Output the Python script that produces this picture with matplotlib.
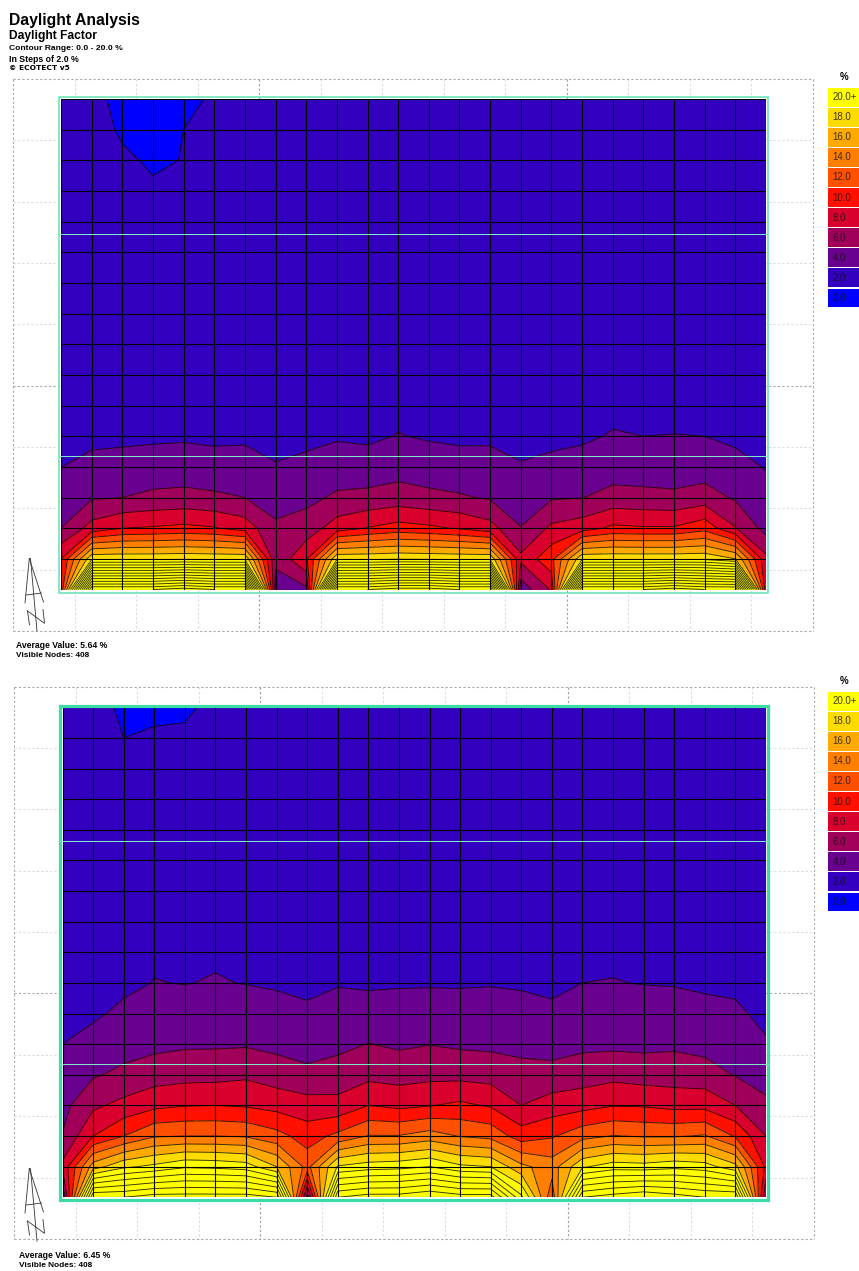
import numpy as np
import matplotlib
matplotlib.use("Agg")
import matplotlib.pyplot as plt
from matplotlib.patches import Rectangle

W, H = 859, 1271
plt.rcParams['font.family'] = ['Liberation Sans', 'DejaVu Sans']

levels_fill = [0, 2, 4, 6, 8, 10, 12, 14, 16, 18, 20, 70]
levels_line = [2, 4, 6, 8, 10, 12, 14, 16, 18, 20, 22, 24, 26, 28, 30, 32, 34, 36, 38, 40, 42, 44]
band_colors = ['#0000ff', '#3300c0', '#690090', '#a0005a', '#da002d', '#ff1000',
               '#ff5000', '#ff8000', '#ffaa00', '#ffdc00', '#ffff00']
legend_labels = ['20.0+', '18.0', '16.0', '14.0', '12.0', '10.0', '8.0', '6.0', '4.0', '2.0', '0.0']

df_top = [
 [2.30,2.08,1.92,1.85,1.90,2.05,2.25,2.35,2.40,2.45,2.50,2.50,2.50,2.50,2.50,2.50,2.50,2.50,2.50,2.50,2.50,2.45,2.40,2.30],
 [2.35,2.15,1.95,1.88,2.00,2.20,2.35,2.45,2.50,2.55,2.55,2.55,2.55,2.55,2.55,2.55,2.55,2.55,2.55,2.55,2.55,2.50,2.45,2.35],
 [2.40,2.30,2.06,1.95,2.01,2.30,2.45,2.50,2.55,2.60,2.60,2.60,2.60,2.60,2.60,2.60,2.60,2.60,2.60,2.60,2.60,2.55,2.50,2.40],
 [2.45,2.40,2.25,2.05,2.25,2.40,2.50,2.55,2.60,2.65,2.65,2.65,2.65,2.65,2.65,2.65,2.65,2.65,2.65,2.65,2.65,2.60,2.55,2.45],
 [2.50,2.50,2.45,2.40,2.45,2.50,2.55,2.60,2.65,2.70,2.70,2.70,2.70,2.70,2.70,2.70,2.70,2.70,2.70,2.70,2.70,2.65,2.60,2.50],
 [2.55,2.60,2.60,2.60,2.60,2.60,2.60,2.65,2.70,2.75,2.75,2.80,2.75,2.75,2.75,2.70,2.70,2.75,2.80,2.80,2.80,2.75,2.65,2.55],
 [2.60,2.70,2.70,2.70,2.70,2.70,2.70,2.70,2.75,2.80,2.80,2.90,2.80,2.80,2.80,2.70,2.75,2.80,2.90,2.90,2.90,2.85,2.70,2.60],
 [2.60,2.80,2.80,2.80,2.80,2.80,2.80,2.70,2.80,2.90,2.90,3.00,2.90,2.90,2.90,2.75,2.80,2.90,3.00,3.00,3.00,2.95,2.75,2.60],
 [2.65,2.90,2.90,3.00,3.00,2.90,3.00,2.75,2.90,3.00,3.00,3.10,3.00,3.00,3.00,2.80,2.90,3.00,3.15,3.10,3.10,3.10,2.85,2.65],
 [2.70,3.05,3.05,3.15,3.20,3.05,3.15,2.80,3.00,3.15,3.15,3.30,3.15,3.15,3.15,2.85,3.00,3.15,3.30,3.25,3.25,3.25,3.00,2.70],
 [2.80,3.20,3.25,3.35,3.40,3.25,3.35,2.85,3.20,3.40,3.30,3.50,3.40,3.35,3.35,2.90,3.15,3.35,3.50,3.40,3.40,3.40,3.20,2.75],
 [3.00,3.50,3.56,3.68,3.76,3.56,3.72,3.00,3.50,3.80,3.64,4.08,3.80,3.64,3.72,3.10,3.45,3.68,4.15,4.00,4.05,4.00,3.64,2.95],
 [3.97,4.60,4.80,4.90,4.95,4.90,4.70,4.20,4.50,5.00,4.90,5.20,5.00,4.80,4.60,4.20,4.55,4.80,5.00,5.00,4.95,5.00,4.60,3.90],
 [5.00,5.80,6.00,6.40,6.55,6.30,6.00,5.20,5.50,6.30,6.50,6.85,6.45,6.20,5.80,5.20,5.80,5.95,6.70,6.55,6.40,6.90,5.75,4.60],
 [6.00,8.77,10.0,10.2,10.5,10.15,9.10,6.33,6.90,9.00,10.1,10.8,10.4,9.80,8.77,6.05,8.40,9.10,10.4,10.2,10.2,11.3,8.10,5.30],
 [10.0,19.5,19.5,19.5,19.6,19.5,19.5,6.50,9.70,19.5,19.5,19.7,19.6,19.5,19.5,8.47,11.4,19.5,19.5,19.5,19.5,19.5,18.0,8.50],
 [10.2,42.0,42.0,42.0,43.0,42.0,42.0,5.00,5.60,42.0,42.0,43.0,43.0,42.0,42.0,4.80,8.20,42.0,42.0,42.0,43.0,42.0,42.0,8.50],
]

df_bottom = [
 [2.40,2.20,1.90,1.80,1.90,2.15,2.35,2.45,2.50,2.50,2.50,2.50,2.50,2.50,2.50,2.50,2.50,2.50,2.50,2.50,2.50,2.50,2.45,2.40],
 [2.45,2.40,2.00,2.12,2.10,2.30,2.45,2.50,2.55,2.55,2.55,2.55,2.55,2.55,2.55,2.55,2.55,2.55,2.55,2.55,2.55,2.55,2.50,2.45],
 [2.50,2.50,2.40,2.40,2.40,2.50,2.55,2.60,2.60,2.60,2.60,2.60,2.60,2.60,2.60,2.60,2.60,2.60,2.65,2.65,2.60,2.60,2.55,2.50],
 [2.55,2.60,2.55,2.55,2.60,2.60,2.65,2.65,2.65,2.65,2.65,2.65,2.65,2.65,2.65,2.65,2.65,2.70,2.75,2.70,2.70,2.65,2.60,2.55],
 [2.60,2.65,2.65,2.70,2.75,2.75,2.75,2.75,2.75,2.75,2.75,2.75,2.75,2.75,2.75,2.75,2.70,2.80,2.85,2.80,2.80,2.75,2.70,2.60],
 [2.65,2.70,2.80,2.90,2.90,2.95,2.90,2.90,2.85,2.90,2.90,2.90,2.90,2.90,2.95,2.90,2.85,2.95,3.00,2.95,2.95,2.90,2.80,2.65],
 [2.70,2.75,2.95,3.10,3.10,3.20,3.10,3.05,3.00,3.05,3.05,3.05,3.05,3.05,3.10,3.05,3.00,3.15,3.20,3.15,3.15,3.05,2.95,2.75],
 [2.75,2.85,3.15,3.40,3.35,3.45,3.35,3.30,3.15,3.30,3.25,3.30,3.30,3.30,3.35,3.25,3.15,3.40,3.45,3.40,3.35,3.25,3.10,2.85],
 [2.85,2.95,3.35,3.75,3.65,3.80,3.65,3.55,3.35,3.60,3.50,3.55,3.55,3.55,3.60,3.50,3.35,3.70,3.75,3.65,3.60,3.50,3.35,2.95],
 [2.90,3.00,3.60,4.05,3.95,4.10,3.95,3.80,3.60,3.90,3.80,3.85,3.85,3.85,3.90,3.80,3.55,4.00,4.05,3.95,3.90,3.75,3.60,3.10],
 [3.30,3.70,4.40,4.80,4.85,4.90,4.85,4.60,4.30,4.60,4.60,4.70,4.80,4.70,4.70,4.60,4.40,4.70,4.80,4.70,4.70,4.45,4.35,3.50],
 [4.00,4.70,5.30,5.50,5.73,5.75,5.80,5.50,5.10,5.50,6.05,5.70,5.95,5.70,5.60,5.50,5.20,5.60,5.60,5.55,5.70,5.40,5.20,4.20],
 [4.70,5.80,6.40,7.05,7.30,7.35,7.65,7.00,6.50,6.90,7.45,7.20,7.45,7.40,7.20,6.60,6.70,7.00,7.40,7.10,7.00,6.80,5.90,5.20],
 [5.40,7.60,8.60,9.50,9.90,10.0,9.80,9.30,8.80,8.60,10.0,9.50,9.90,10.4,9.80,8.00,8.90,9.30,9.90,9.80,9.40,9.40,8.00,6.40],
 [6.10,10.0,12.0,13.8,14.0,14.0,13.8,12.7,11.1,12.5,14.1,14.1,14.9,13.9,13.4,11.0,11.8,13.3,14.1,13.8,13.8,14.2,11.8,8.00],
 [8.50,17.0,19.6,20.5,21.7,21.5,21.0,18.0,13.3,20.2,21.0,21.3,22.0,20.4,20.0,16.5,15.0,19.7,21.0,20.8,21.4,20.9,18.6,9.50],
 [4.00,30.0,30.0,31.0,31.0,31.0,31.0,30.0,5.00,30.0,31.0,31.0,32.0,31.0,31.0,22.5,12.5,30.0,31.0,32.0,31.0,30.0,30.0,6.00],
]

fig = plt.figure(figsize=(W / 100, H / 100), dpi=100)
bg = fig.add_axes([0, 0, 1, 1], zorder=0)
bg.set_xlim(0, W); bg.set_ylim(H, 0); bg.axis('off')
over = fig.add_axes([0, 0, 1, 1], zorder=5)
over.set_xlim(0, W); over.set_ylim(H, 0); over.axis('off'); over.patch.set_alpha(0)


def txt(x, y, s, size, **kw):
    kw.setdefault('weight', 'bold')
    kw.setdefault('color', 'black')
    over.text(x, y, s, fontsize=size * 0.72, va='center', ha=kw.pop('ha', 'left'), **kw)


def panel(grid, box, frame, frame_lw, frame_color, outer, cyan_ys, arrow_dy, legend_top, note_xy, avg):
    x0, y0, x1, y1 = box
    ax = fig.add_axes([x0 / W, 1 - y1 / H, (x1 - x0) / W, (y1 - y0) / H], zorder=2)
    data = np.array(grid)
    nr, nc = data.shape
    xs = np.arange(nc); ys = np.arange(nr)
    ax.contourf(xs, ys, data, levels=levels_fill, colors=band_colors)
    ax.contour(xs, ys, data, levels=levels_line, colors='black', linewidths=0.65, alpha=0.8)
    ax.vlines(xs, 0, nr - 1, color='black', lw=0.8)
    ax.hlines(ys, 0, nc - 1, color='black', lw=0.8)
    ax.set_xlim(0, nc - 1); ax.set_ylim(nr - 1, 0); ax.axis('off')

    # dotted background reference grid
    ox0, oy0, ox1, oy1 = outer
    nx, ny = 13, 9
    for i in range(nx + 1):
        x = ox0 + (ox1 - ox0) * i / nx
        edge = i in (0, nx)
        dark = i in (4, 9)
        col = '#a8a8a8' if edge else ('#a0a0a0' if dark else '#dcdcdc')
        bg.plot([x, x], [oy0, oy1], color=col, lw=0.8, dashes=(2, 2))
    for j in range(ny + 1):
        y = oy0 + (oy1 - oy0) * j / ny
        edge = j in (0, ny)
        col = '#a8a8a8' if edge or j == 5 else '#dcdcdc'
        bg.plot([ox0, ox1], [y, y], color=col, lw=0.8, dashes=(2, 2))

    fx0, fy0, fx1, fy1 = frame
    over.add_patch(Rectangle((fx0, fy0), fx1 - fx0, fy1 - fy0, fill=False, ec=frame_color, lw=frame_lw))
    for y in cyan_ys:
        over.plot([fx0, fx1], [y, y], color='#7fe6c8', lw=0.75)

    # north arrow
    for (ax_, ay_, bx_, by_) in [(29.3, 558.5, 25, 603), (29.3, 558.5, 43.5, 602), (30.5, 558.5, 37, 631),
                                 (26, 595, 41.5, 593), (27.5, 611, 29.5, 625), (27.5, 611, 44, 623), (43, 609.5, 44.5, 623)]:
        over.plot([ax_, bx_], [ay_ + arrow_dy, by_ + arrow_dy], color='#333333', lw=0.6)

    # legend
    for k, (lab, col) in enumerate(zip(legend_labels, band_colors[::-1])):
        top = legend_top + 20.05 * k
        over.add_patch(Rectangle((828, top), 31, 18.6, fc=col, ec='none'))
        over.text(832.5, top + 9.3, lab, fontsize=7.0, color='#111111', va='center', ha='left', alpha=0.8)
    over.text(844, legend_top - 11.5, '%', fontsize=7.0, weight='bold', ha='center', va='center')

    txt(note_xy[0], note_xy[1], 'Average Value: ' + avg + ' %', 8.6)
    txt(note_xy[0], note_xy[1] + 10.5, 'Visible Nodes: 408', 8.3)


panel(df_top, (61, 99, 766, 589.5), (59, 97, 768, 592.7), 1.2, '#6fe3b9',
      (13, 79, 813, 631), [234, 456], 0, 88, (16, 645), '5.64')
panel(df_bottom, (62.5, 707.3, 766, 1197.3), (60, 705.5, 768, 1200), 2.3, '#3ddca4',
      (14, 686.5, 814, 1239), [841, 1063.5], 610, 692, (19, 1255), '6.45')

txt(9, 20, 'Daylight Analysis', 15.8)
txt(9, 36, 'Daylight Factor', 12)
txt(9, 48.3, 'Contour Range: 0.0 - 20.0 %', 8.5)
txt(9, 59, 'In Steps of 2.0 %', 8.8)
txt(9, 67.5, '© ECOTECT v5', 7.5, family=['DejaVu Sans'])

fig.savefig('out.png', dpi=100)
